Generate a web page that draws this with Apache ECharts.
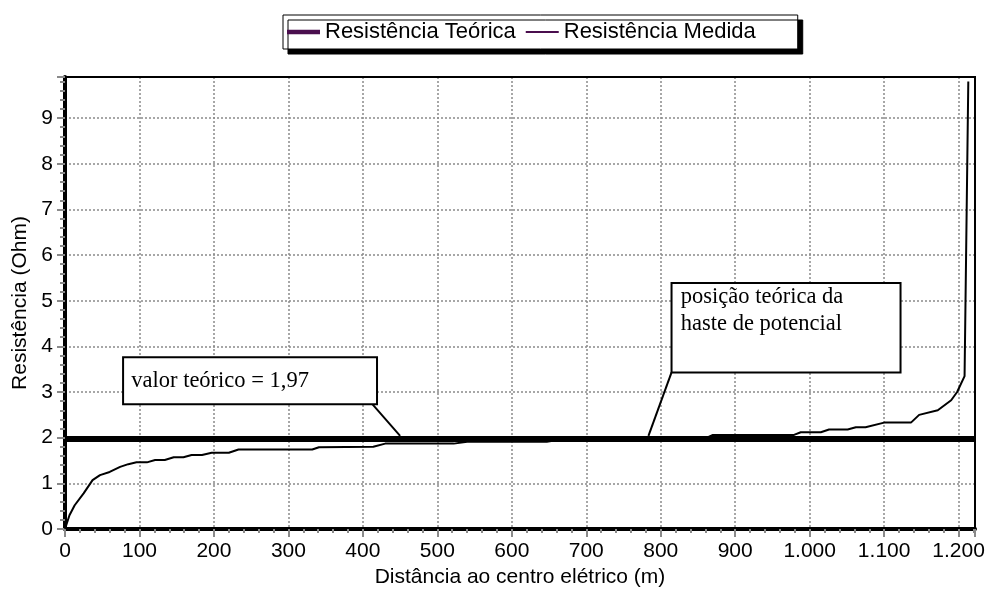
<!DOCTYPE html>
<html>
<head>
<meta charset="utf-8">
<script src="https://cdn.jsdelivr.net/npm/echarts@6/dist/echarts.min.js"></script>
<style>html,body{margin:0;padding:0;background:#fff}#c{width:989px;height:594px}</style>
</head>
<body>
<div id="c"></div>
<script>
// ---- data ----
const distances = [0, 6, 13, 25, 37, 47, 60, 74, 85, 96, 110, 121, 134, 146, 159, 170, 184, 197, 220, 233, 332, 341, 414, 430, 522, 540, 647, 661, 759, 768, 862, 870, 979, 988, 1015, 1026, 1051, 1062, 1075, 1100, 1136, 1147, 1172, 1190, 1198, 1208, 1213];
const measuredResistance = [0.00, 0.30, 0.52, 0.78, 1.07, 1.18, 1.25, 1.36, 1.42, 1.46, 1.46, 1.51, 1.51, 1.57, 1.57, 1.62, 1.62, 1.67, 1.67, 1.74, 1.74, 1.79, 1.80, 1.87, 1.87, 1.91, 1.91, 1.95, 1.95, 2.00, 2.00, 2.06, 2.06, 2.12, 2.12, 2.18, 2.18, 2.23, 2.23, 2.33, 2.33, 2.50, 2.60, 2.82, 3.00, 3.35, 9.80];
const theoreticalValue = 1.97;
const theoreticalRange = [0, 1222];
const xTickLabels = ['0', '100', '200', '300', '400', '500', '600', '700', '800', '900', '1.000', '1.100', '1.200'];
const yTickLabels = ['0', '1', '2', '3', '4', '5', '6', '7', '8', '9'];
const seriesNames = ['Resistência Teórica', 'Resistência Medida'];
const axisTitles = { x: 'Distância ao centro elétrico (m)', y: 'Resistência (Ohm)' };
const annotationTexts = ['valor teórico = 1,97', 'posição teórica da\nhaste de potencial'];

// annotation anchors (in data units)
const notes = [
  { box: [[78, 3.76], [419, 2.73]], from: [413, 2.73], to: [450, 2.04], text: annotationTexts[0], textAt: [89, 3.245] },
  { box: [[814.5, 5.39], [1122, 3.43]], from: [814.5, 3.43], to: [783.5, 2.04], text: annotationTexts[1], textAt: [827, 4.78] }
];

const chart = echarts.init(document.getElementById('c'), null, { renderer: 'canvas' });
const legendColor = '#4a0e4e';
const grey = '#8a8a8a';
const sans = '"Liberation Sans", Arial, sans-serif';

chart.setOption({
  backgroundColor: '#fff',
  animation: false,
  legend: {
    left: 283, top: 15,
    padding: [6, 42, 6, 4],
    itemGap: 10, itemWidth: 33, itemHeight: 14,
    symbolKeepAspect: true,
    backgroundColor: '#fff', borderColor: '#000', borderWidth: 1,
    shadowColor: '#000', shadowOffsetX: 5, shadowOffsetY: 5, shadowBlur: 0,
    textStyle: { fontFamily: sans, fontSize: 22, color: '#000' },
    data: [
      { name: seriesNames[0], icon: 'path://M0 0H33V4.5H0Z', itemStyle: { color: legendColor } },
      { name: seriesNames[1], icon: 'path://M0 0H33V2H0Z', itemStyle: { color: legendColor } }
    ]
  },
  grid: { left: 65, right: 14, top: 77, bottom: 65, show: true, borderColor: '#000', borderWidth: 0, backgroundColor: '#fff' },
  xAxis: {
    type: 'value', min: 0, max: theoreticalRange[1], interval: 100,
    name: axisTitles.x, nameLocation: 'middle', nameGap: 36,
    nameTextStyle: { fontFamily: sans, fontSize: 21, color: '#000' },
    axisLine: { lineStyle: { color: '#000', width: 4 } },
    axisTick: { length: 8, lineStyle: { color: grey, width: 2 } },
    minorTick: { show: true, splitNumber: 5, length: 4, lineStyle: { color: grey, width: 2 } },
    axisLabel: {
      fontFamily: sans, fontSize: 21, color: '#000', margin: 12,
      formatter: v => (v % 100 === 0 ? xTickLabels[v / 100] : '')
    },
    splitLine: { show: true, lineStyle: { color: grey, width: 1.5, type: [2, 2] } }
  },
  yAxis: {
    type: 'value', min: 0, max: 9.9, interval: 1,
    name: axisTitles.y, nameLocation: 'middle', nameGap: 34, nameRotate: 90,
    nameTextStyle: { fontFamily: sans, fontSize: 21, color: '#000' },
    axisLine: { show: true, lineStyle: { color: '#000', width: 4 } },
    axisTick: { show: true, length: 8, lineStyle: { color: grey, width: 2 } },
    minorTick: { show: true, splitNumber: 5, length: 5, lineStyle: { color: grey, width: 2 } },
    axisLabel: {
      fontFamily: sans, fontSize: 21, color: '#000', margin: 12,
      formatter: v => (Number.isInteger(v) ? yTickLabels[v] : '')
    },
    splitLine: { show: true, lineStyle: { color: grey, width: 1.5, type: [2, 2] } }
  },
  series: [
    {
      name: seriesNames[0], type: 'line', symbol: 'none', z: 5,
      itemStyle: { color: '#000' },
      lineStyle: { color: '#000', width: 6 },
      data: theoreticalRange.map(x => [x, theoreticalValue])
    },
    {
      name: seriesNames[1], type: 'line', symbol: 'none', z: 3,
      itemStyle: { color: '#000' },
      lineStyle: { color: '#000', width: 2 },
      data: distances.map((d, i) => [d, measuredResistance[i]])
    }
  ]
});

const P = p => chart.convertToPixel({ gridIndex: 0 }, p);
const graphics = [];
// top and right frame of the plot area
const tl = P([0, 9.9]), br = P([theoreticalRange[1], 0]);
graphics.push({ type: 'polyline', z: 90, shape: { points: [[tl[0], tl[1]], [br[0], tl[1]], [br[0], br[1]]] }, style: { stroke: '#000', lineWidth: 2, fill: null } });
notes.forEach(n => {
  const a = P(n.box[0]), b = P(n.box[1]);
  const f = P(n.from), t = P(n.to), tx = P(n.textAt);
  graphics.push({
    type: 'line', z: 100, shape: { x1: f[0], y1: f[1], x2: t[0], y2: t[1] },
    style: { stroke: '#000', lineWidth: 2 }
  });
  graphics.push({
    type: 'rect', z: 101, shape: { x: a[0], y: a[1], width: b[0] - a[0], height: b[1] - a[1] },
    style: { fill: '#fff', stroke: '#000', lineWidth: 2 }
  });
  graphics.push({
    type: 'text', z: 102, x: tx[0], y: tx[1],
    style: { text: n.text, fontFamily: '"Liberation Serif", "Times New Roman", serif', fontSize: 22.5, lineHeight: 27, fill: '#000', verticalAlign: 'middle', align: 'left' }
  });
});
chart.setOption({ graphic: graphics });
</script>
</body>
</html>
